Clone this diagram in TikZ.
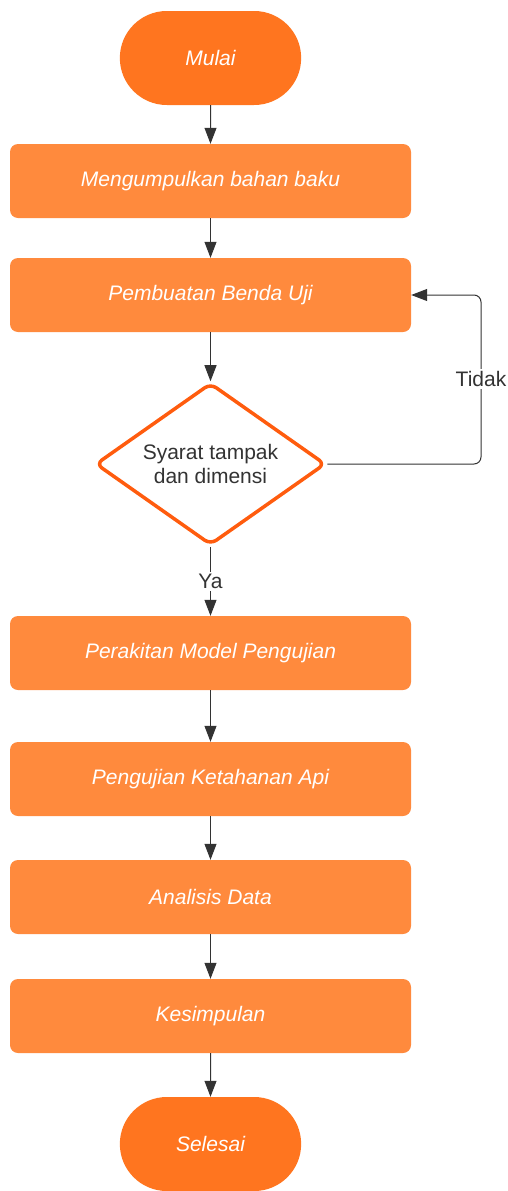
\documentclass[tikz,border=0pt]{standalone}
\usepackage{fontspec}
\setmainfont{Liberation Sans}
\usetikzlibrary{shapes.geometric,shapes.misc,arrows.meta}
\definecolor{termfill}{RGB}{255,117,31}
\definecolor{boxfill}{RGB}{255,138,61}
\definecolor{decline}{RGB}{255,92,14}
\definecolor{linecol}{RGB}{51,51,51}
\definecolor{txtcol}{RGB}{51,51,51}
\tikzset{
  terminal/.style={rounded rectangle, fill=termfill, draw=none,
    minimum width=188pt, minimum height=94pt, text=white,
    font=\fontsize{21}{24}\selectfont\itshape},
  stepbox/.style={rectangle, rounded corners=8pt, fill=boxfill, draw=none,
    minimum width=401pt, minimum height=74pt, text=white,
    font=\fontsize{21}{24}\selectfont\itshape},
  decision/.style={diamond, draw=decline, line width=3.5pt, fill=white,
    rounded corners=7pt, aspect=1.42, inner sep=0pt,
    minimum width=230pt, minimum height=162pt, text=txtcol, align=center,
    font=\fontsize{21}{24}\selectfont},
  flow/.style={draw=linecol, line width=1pt,
    -{Triangle[length=16pt,width=12pt]}},
  lbl/.style={fill=white, text=txtcol, inner sep=2pt,
    font=\fontsize{21}{24}\selectfont}
}
\begin{document}
\begin{tikzpicture}[x=1pt,y=-1pt]
  \useasboundingbox (0,0) rectangle (508,1191);
  % process chain
  \node[terminal] (start) at (210.5,58) {Mulai};
  \node[stepbox] (s1) at (210.5,181) {Mengumpulkan bahan baku};
  \node[stepbox] (s2) at (210.5,295) {Pembuatan Benda Uji};
  \node[decision] (d) at (210.5,464) {Syarat tampak\\dan dimensi};
  \node[stepbox] (s3) at (210.5,653) {Perakitan Model Pengujian};
  \node[stepbox] (s4) at (210.5,779) {Pengujian Ketahanan Api};
  \node[stepbox] (s5) at (210.5,897) {Analisis Data};
  \node[stepbox] (s6) at (210.5,1016) {Kesimpulan};
  \node[terminal] (end) at (210.5,1144) {Selesai};

  % connectors
  \draw[flow] (start) -- (s1);
  \draw[flow] (s1) -- (s2);
  \draw[flow] (s2) -- (d);
  \draw[flow] (d) -- node[lbl] (ya) {Ya} (s3);
  \draw[flow] (s3) -- (s4);
  \draw[flow] (s4) -- (s5);
  \draw[flow] (s5) -- (s6);
  \draw[flow] (s6) -- (end);

  % loop back when the check fails
  \coordinate (lb) at (481,464);
  \coordinate (lt) at (481,295);
  \draw[flow, rounded corners=7pt] (d.east) -- (lb) -- (lt) -- (s2.east);
  \node[lbl] (tidak) at (481,379) {Tidak};
\end{tikzpicture}
\end{document}
